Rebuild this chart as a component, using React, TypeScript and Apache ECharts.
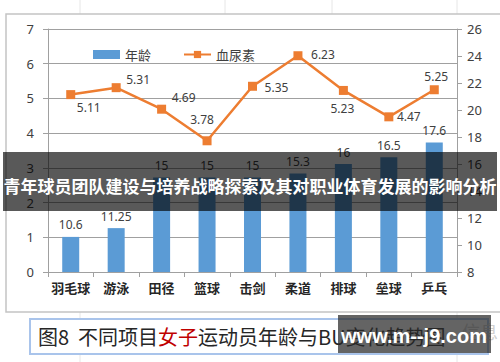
import React, { useEffect, useRef } from 'react';
import * as echarts from 'echarts';

const categories = ['羽毛球', '游泳', '田径', '篮球', '击剑', '柔道', '排球', '垒球', '乒乓'];
const ageValues = [10.6, 11.25, 15, 15, 15, 15.3, 16, 16.5, 17.6];
const buValues = [5.11, 5.31, 4.69, 3.78, 5.35, 6.23, 5.23, 4.47, 5.25];
const leftAxis = { min: 0, max: 7, interval: 1 };
const rightAxis = { min: 8, max: 26, interval: 2 };
const seriesNames = ['年龄', '血尿素'];
const bannerTitle = '青年球员团队建设与培养战略探索及其对职业体育发展的影响分析';
const captionParts = ['图8  不同项目', '女子', '运动员年龄与BU变化趋势图'];
const watermark = 'www.m--j9.com';

// label offsets for the line labels (layout only)
const lineLabelOffsets: [number, number][] = [
  [18, 13], [22, -8], [22, -12], [-5, -21], [24, 1], [25, -1], [-1, 18], [20, 0], [2, -13],
];

const FONT = '"Noto Sans", "Noto Sans CJK SC", sans-serif';

export default function App() {
  const ref = useRef<HTMLDivElement>(null);
  useEffect(() => {
    if (!ref.current) return;
    const chart = echarts.init(ref.current, undefined, { renderer: 'svg' });
    const gridColor = '#a0a0a0';
    const option: any = {
      animation: false,
      backgroundColor: '#ffffff',
      grid: { left: 48, right: 43, top: 29, bottom: 90, containLabel: false },
      legend: {
        left: 88,
        top: 43,
        itemWidth: 27,
        itemHeight: 9,
        itemGap: 32,
        textStyle: { fontSize: 13, color: '#404040', fontFamily: FONT },
        data: [
          { name: seriesNames[0], icon: 'rect' },
          { name: seriesNames[1] },
        ],
      },
      xAxis: {
        type: 'category',
        data: categories,
        axisLine: { lineStyle: { color: gridColor } },
        axisTick: { show: true, length: 5, lineStyle: { color: gridColor } },
        axisLabel: {
          interval: 0,
          fontSize: 13,
          fontWeight: 'bold',
          color: '#262626',
          margin: 9,
          fontFamily: '"Noto Sans CJK SC", sans-serif',
        },
      },
      yAxis: [
        {
          type: 'value',
          min: leftAxis.min,
          max: leftAxis.max,
          interval: leftAxis.interval,
          position: 'left',
          axisLine: { show: true, lineStyle: { color: gridColor } },
          axisTick: { show: true, length: 5, lineStyle: { color: gridColor } },
          axisLabel: { fontSize: 13, color: '#404040', margin: 14, fontFamily: FONT },
          splitLine: { show: true, lineStyle: { color: gridColor, width: 1 } },
        },
        {
          type: 'value',
          min: rightAxis.min,
          max: rightAxis.max,
          interval: rightAxis.interval,
          position: 'right',
          alignTicks: false,
          axisLine: { show: true, lineStyle: { color: gridColor } },
          axisTick: { show: true, length: 5, lineStyle: { color: gridColor } },
          axisLabel: { fontSize: 13, color: '#404040', margin: 10, fontFamily: FONT },
          splitLine: { show: false },
        },
      ],
      series: [
        {
          name: seriesNames[0],
          type: 'bar',
          yAxisIndex: 1,
          data: ageValues,
          barWidth: 17,
          itemStyle: { color: '#5b9bd5' },
          label: {
            show: true,
            position: 'top',
            distance: 6,
            fontSize: 12,
            color: '#404040',
            fontFamily: FONT,
          },
          z: 2,
        },
        {
          name: seriesNames[1],
          type: 'line',
          yAxisIndex: 0,
          data: buValues.map((v, i) => ({
            value: v,
            label: { offset: lineLabelOffsets[i] },
          })),
          symbol: 'rect',
          symbolSize: 9,
          lineStyle: { color: '#ed7d31', width: 2.5 },
          itemStyle: { color: '#ed7d31' },
          label: {
            show: true,
            position: 'inside',
            fontSize: 12,
            color: '#404040',
            fontFamily: FONT,
          },
          z: 3,
        },
      ],
      graphic: [
        // spreadsheet grid lines
        { type: 'line', z: 0, shape: { x1: 80, y1: 0, x2: 80, y2: 14 }, style: { stroke: '#e6e6e6', lineWidth: 1 } },
        { type: 'line', z: 0, shape: { x1: 225, y1: 0, x2: 225, y2: 14 }, style: { stroke: '#e6e6e6', lineWidth: 1 } },
        { type: 'line', z: 0, shape: { x1: 332, y1: 0, x2: 332, y2: 14 }, style: { stroke: '#e6e6e6', lineWidth: 1 } },
        { type: 'line', z: 0, shape: { x1: 457, y1: 0, x2: 457, y2: 14 }, style: { stroke: '#e6e6e6', lineWidth: 1 } },
        { type: 'line', z: 0, shape: { x1: 80, y1: 312, x2: 80, y2: 362 }, style: { stroke: '#e6e6e6', lineWidth: 1 } },
        { type: 'line', z: 0, shape: { x1: 457, y1: 312, x2: 457, y2: 362 }, style: { stroke: '#e6e6e6', lineWidth: 1 } },
        // chart area border
        {
          type: 'rect',
          z: 1,
          shape: { x: 6, y: 14, width: 500, height: 298 },
          style: { fill: 'none', stroke: '#c4c4c4', lineWidth: 1.5 },
        },
        // banner overlay
        {
          type: 'rect',
          z: 100,
          shape: { x: 3, y: 152, width: 494, height: 59 },
          style: { fill: 'rgba(0,0,0,0.65)' },
        },
        {
          type: 'text',
          z: 101,
          x: 250,
          y: 185,
          style: {
            text: bannerTitle,
            fill: '#ffffff',
            font: 'bold 17px "Noto Sans CJK SC", sans-serif',
            align: 'center',
            verticalAlign: 'middle',
          },
        },
        // caption box
        {
          type: 'rect',
          z: 100,
          shape: { x: 30, y: 319, width: 458, height: 35 },
          style: { fill: '#ffffff', stroke: '#a9c4eb', lineWidth: 2 },
        },
        {
          type: 'text',
          z: 101,
          x: 38,
          y: 336,
          style: {
            rich: {
              a: { fill: '#262626', font: '20px "Noto Sans CJK SC", sans-serif' },
              r: { fill: '#c00000', font: '20px "Noto Sans CJK SC", sans-serif' },
            },
            text: `{a|${captionParts[0]}}{r|${captionParts[1]}}{a|${captionParts[2]}}`,
            verticalAlign: 'middle',
            align: 'left',
          },
        },
        {
          type: 'text',
          z: 101,
          x: 462,
          y: 331,
          style: {
            text: '信息',
            fill: '#d0d0d0',
            font: '18px "Noto Sans CJK SC", sans-serif',
            verticalAlign: 'middle',
          },
        },
        // watermark
        {
          type: 'rect',
          z: 102,
          shape: { x: 338, y: 315, width: 153, height: 38 },
          style: { fill: 'rgba(40,40,40,0.72)' },
        },
        {
          type: 'text',
          z: 103,
          x: 414,
          y: 336,
          style: {
            text: watermark,
            fill: '#ffffff',
            font: 'bold 20px "Liberation Sans", sans-serif',
            align: 'center',
            verticalAlign: 'middle',
          },
        },
      ],
    };
    chart.setOption(option);
    return () => chart.dispose();
  }, []);
  return (
    <div
      ref={ref}
      style={{ position: 'absolute', left: 0, top: 0, width: 500, height: 362 }}
    />
  );
}
